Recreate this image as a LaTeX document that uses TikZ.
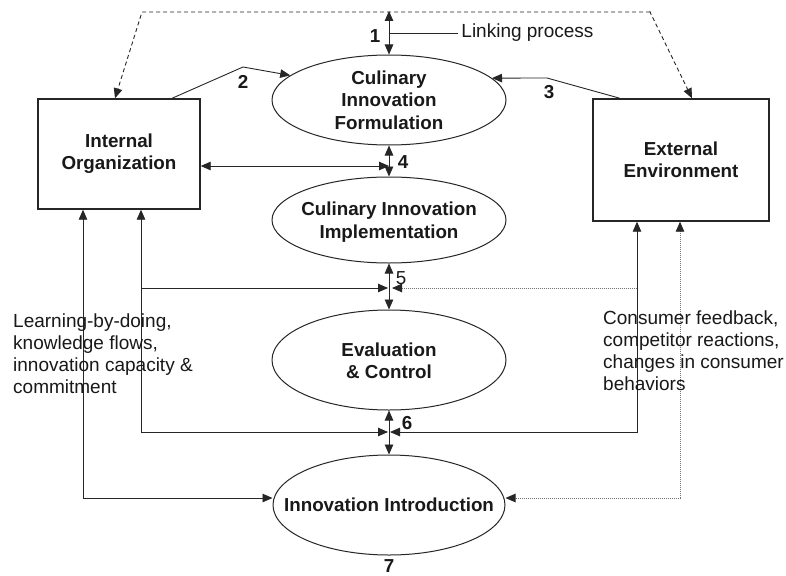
\documentclass[tikz,border=0pt]{standalone}
\usepackage{fontspec}
\setmainfont{Liberation Sans}
\usetikzlibrary{arrows.meta,shapes.geometric}
\begin{document}
\begin{tikzpicture}[x=1pt,y=-1pt,
  Tp/.tip={Triangle[length=10pt,width=8.5pt]},
  Tk/.tip={Triangle[length=10pt,width=8.5pt,color=black!85]},
  ln/.style={line width=0.9pt, draw=black!85},
  dsh/.style={ln, dashed, dash pattern=on 4pt off 3pt},
  dot/.style={line width=0.9pt, draw=black!55, dash pattern=on 1pt off 1pt},
  box/.style={draw=black!85, line width=1.4pt, inner sep=0pt, align=center,
    font=\bfseries\fontsize{18.8}{22}\selectfont, text=black!90},
  ell/.style={ellipse, draw=black!85, line width=1pt, inner sep=0pt},
  bt/.style={font=\bfseries\fontsize{18.8}{22.5}\selectfont, align=center, text=black!90, inner sep=0pt},
  num/.style={font=\bfseries\fontsize{18.8}{22}\selectfont, text=black!90, inner sep=0pt},
  numr/.style={font=\fontsize{18.8}{22}\selectfont, text=black!90, inner sep=0pt},
  txt/.style={font=\fontsize{19}{21.8}\selectfont, align=left, text=black!90, inner sep=0pt},
]
\useasboundingbox[fill=white] (0,0) rectangle (786,575);

% boxes
\node[box, minimum width=162pt, minimum height=110pt] (intbox) at (119,154) {Internal\\Organization};
\node[box, minimum width=176pt, minimum height=122pt] (extbox) at (681,160) {External\\Environment};

% ellipses
\node[ell, minimum width=234pt, minimum height=90pt] (e1) at (389,100) {};
\node[ell, minimum width=234pt, minimum height=86pt] (e2) at (389,220) {};
\node[ell, minimum width=234pt, minimum height=100pt] (e3) at (389,360) {};
\node[ell, minimum width=232pt, minimum height=100pt] (e4) at (389,505) {};
\node[bt] (e1t) at (389,100) {Culinary\\Innovation\\Formulation};
\node[bt] (e2t) at (389,222) {Culinary Innovation\\Implementation};
\node[bt] (e3t) at (389,361) {Evaluation\\\& Control};
\node[bt] (e4t) at (389,505) {Innovation Introduction};

% coordinates
\coordinate (dl) at (142,12);
\coordinate (dr) at (650,12);
\coordinate (t1) at (389,11);
\coordinate (lp) at (389,33);
\coordinate (b2) at (243,67);
\coordinate (b3) at (547,78);
\coordinate (c4) at (389,166);
\coordinate (c5) at (389,288);
\coordinate (c6) at (389,432);
\coordinate (l5) at (141,288);
\coordinate (l6) at (141,432);
\coordinate (r5) at (637,288);
\coordinate (r6) at (637,432);
\coordinate (l7) at (83,498);
\coordinate (r7) at (680,498);

% top dashed linking
\draw[dsh, -{Tp}] (t1 -| dr) -- (dr) -- (extbox.north -| 692,0);
\draw[dsh, -{Tp}] (dr) -- (dl) -- (intbox.north -| 115,0);
\draw[ln, {Tp}-{Tp}] (t1) -- (e1.north);
\draw[ln] (lp) -- (458,33) node[txt, anchor=west, xshift=3pt] (lpt) {Linking process};
\node[num] (n1) at (375,36) {1};

% 2 and 3
\draw[ln, -{Tp}] (intbox.north -| 172,0) -- (b2) -- (e1.166);
\node[num] (n2) at (243,82) {2};
\draw[ln, -{Tp}] (extbox.north -| 620,0) -- (b3) -- (e1.12);
\node[num] (n3) at (549,92) {3};

% 4
\draw[ln, {Tp}-{Tp}] (e1.south) -- (e2.north);
\draw[ln, {Tp}-{Tp}] (intbox.east |- c4) -- (c4);
\node[num] (n4) at (403,162) {4};

% 5
\draw[ln, {Tp}-{Tp}] (e2.south) -- (e3.north);
\draw[ln, -{Tp}] (l5) -- ([xshift=-1pt]c5);
\draw[dot, -{Tk}] (r5) -- ([xshift=3pt]c5);
\node[numr] (n5) at (401,278) {5};

% 6
\draw[ln, {Tp}-{Tp}] (e3.south) -- (e4.north);
\draw[ln, {Tp}-{Tp}] (intbox.south -| l6) -- (l6) -- ([xshift=-1pt]c6);
\draw[ln, {Tp}-{Tp}] (extbox.south -| r6) -- (r6) -- ([xshift=1pt]c6);
\node[num] (n6) at (407,423) {6};

% 7
\draw[ln, {Tp}-{Tp}] (intbox.south -| l7) -- (l7) -- (e4.west |- l7);
\draw[dot, {Tk}-{Tk}] (extbox.south -| r7) -- (r7) -- (e4.east |- r7);
\node[num] (n7) at (389,566) {7};

% side texts
\node[txt, anchor=north west] (lt) at (13,314) {Learning-by-doing,\\knowledge flows,\\innovation capacity \&\\commitment};
\node[txt, anchor=north west] (rt) at (603,311) {Consumer feedback,\\competitor reactions,\\changes in consumer\\behaviors};
\end{tikzpicture}
\end{document}
